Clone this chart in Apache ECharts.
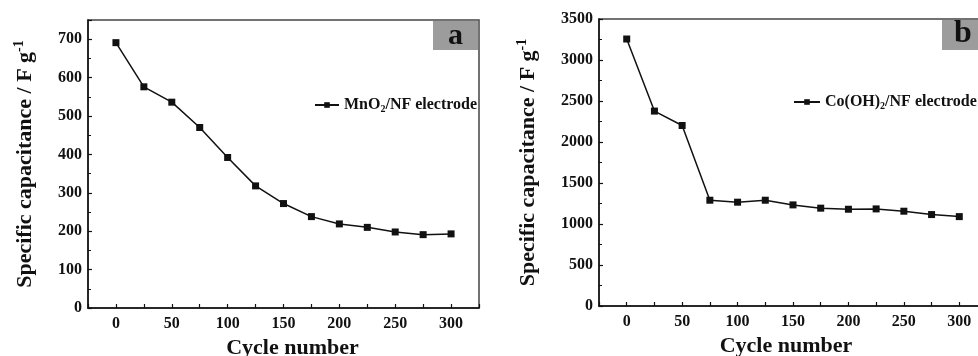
<!DOCTYPE html>
<html><head><meta charset="utf-8">
<script src="https://cdn.jsdelivr.net/npm/echarts@6/dist/echarts.min.js"></script>
<style>html,body{margin:0;padding:0;overflow:hidden;background:#fff;width:978px;height:356px}#c{width:990px;height:356px}</style>
</head><body><div id="c"></div>
<script>
const cycles = [0, 25, 50, 75, 100, 125, 150, 175, 200, 225, 250, 275, 300];
const mno2 = [691, 576, 536, 470, 392, 318, 272, 238, 219, 210, 198, 191, 193];
const cooh = [3256, 2377, 2201, 1290, 1266, 1290, 1233, 1193, 1180, 1184, 1156, 1115, 1090];
const xTickLabels = ['0', '50', '100', '150', '200', '250', '300'];

const FONT = 'Liberation Serif';
const chart = echarts.init(document.getElementById('c'));

function xAxis(gi, pad) {
  return {
    gridIndex: gi, type: 'value', min: -25, max: 325, interval: 25,
    axisLine: {show: true, onZero: false, lineStyle: {color: '#111', width: 1.5}},
    axisTick: {show: true, inside: true, length: 4, lineStyle: {color: '#111', width: 1.2}},
    splitLine: {show: false},
    axisLabel: {
      margin: 8, color: '#111', fontFamily: FONT, fontWeight: 'bold', fontSize: 16,
      formatter: v => xTickLabels.includes(String(v)) ? String(v) : ''
    },
    name: 'Cycle number', nameLocation: 'middle', nameGap: 28,
    nameTextStyle: {color: '#111', fontFamily: FONT, fontWeight: 'bold', fontSize: 22, padding: pad}
  };
}
function yAxis(gi, max, interval, gap) {
  return {
    gridIndex: gi, type: 'value', min: 0, max: max, interval: interval,
    axisLine: {show: true, onZero: false, lineStyle: {color: '#111', width: 1.5}},
    axisTick: {show: true, inside: true, length: 4, lineStyle: {color: '#111', width: 1.2}},
    minorTick: {show: true, splitNumber: 2, length: 3, lineStyle: {color: '#111', width: 1}},
    splitLine: {show: false},
    axisLabel: {margin: 6, color: '#111', fontFamily: FONT, fontWeight: 'bold', fontSize: 16,
      showMaxLabel: max % interval === 0, formatter: v => String(v)},
    name: 'Specific capacitance / F g{sup|-1}', nameLocation: 'middle', nameGap: gap, nameRotate: 90,
    nameTextStyle: {color: '#111', fontFamily: FONT, fontWeight: 'bold', fontSize: 22,
      rich: {sup: {fontFamily: FONT, fontWeight: 'bold', fontSize: 14, verticalAlign: 'top', padding: [0, 0, 12, 0], color: '#111'}}}
  };
}
function legendFmt(name) {
  return name === 'a' ? '{t|MnO}{s|2}{t|/NF electrode}' : '{t|Co(OH)}{s|2}{t|/NF electrode}';
}
const legendText = {
  color: '#111', fontFamily: FONT, fontWeight: 'bold', fontSize: 16,
  rich: {t: {fontFamily: FONT, fontWeight: 'bold', fontSize: 16, color: '#111'},
         s: {fontFamily: FONT, fontWeight: 'bold', fontSize: 10, color: '#111', padding: [9, 0, 0, 0]}}
};

chart.setOption({
  animation: false,
  backgroundColor: '#fff',
  grid: [
    {left: 88, top: 20, width: 391, height: 288, outerBoundsMode: 'none', containLabel: false, show: true, borderColor: '#444', borderWidth: 1.5, backgroundColor: 'transparent'},
    {left: 599, top: 19, width: 388, height: 287, outerBoundsMode: 'none', containLabel: false, show: true, borderColor: '#444', borderWidth: 1.5, backgroundColor: 'transparent'}
  ],
  xAxis: [xAxis(0, [0, 0, 0, 18]), xAxis(1, [0, 14, 0, 0])],
  yAxis: [yAxis(0, 750, 100, 50), yAxis(1, 3500, 500, 58)],
  legend: [
    {data: ['a'], left: 309, top: 92, itemWidth: 24, itemHeight: 7, itemGap: 3, formatter: legendFmt, textStyle: legendText},
    {data: ['b'], left: 788, top: 89, itemWidth: 26, itemHeight: 7, itemGap: 5, formatter: legendFmt, textStyle: legendText}
  ],
  series: [
    {name: 'a', type: 'line', xAxisIndex: 0, yAxisIndex: 0, data: cycles.map((c, i) => [c, mno2[i]]),
     symbol: 'rect', symbolSize: 7, lineStyle: {color: '#111', width: 1.5}, itemStyle: {color: '#111'}},
    {name: 'b', type: 'line', xAxisIndex: 1, yAxisIndex: 1, data: cycles.map((c, i) => [c, cooh[i]]),
     symbol: 'rect', symbolSize: 7, lineStyle: {color: '#111', width: 1.5}, itemStyle: {color: '#111'}}
  ],
  graphic: [
    {type: 'rect', shape: {x: 433, y: 21, width: 45, height: 29}, style: {fill: '#9c9c9c'}, z: 10},
    {type: 'text', x: 455.5, y: 36, style: {text: 'a', font: 'bold 30px "Liberation Serif"', fill: '#111', align: 'center', verticalAlign: 'middle'}, z: 11},
    {type: 'rect', shape: {x: 942, y: 20, width: 44, height: 30}, style: {fill: '#9c9c9c'}, z: 10},
    {type: 'text', x: 963, y: 34, style: {text: 'b', font: 'bold 32px "Liberation Serif"', fill: '#111', align: 'center', verticalAlign: 'middle'}, z: 11}
  ]
});
</script></body></html>
